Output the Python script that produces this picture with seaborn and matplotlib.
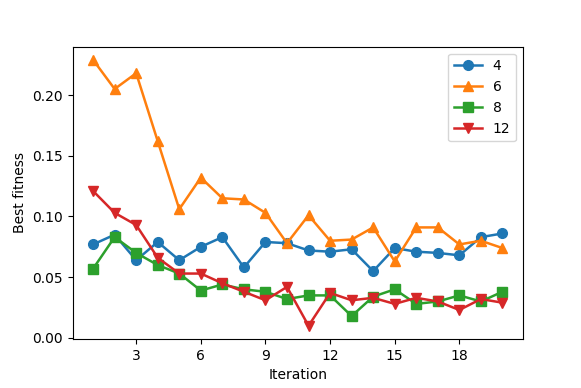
import matplotlib
matplotlib.use('Agg')
import matplotlib.pyplot as plt
import seaborn as sns
import pandas as pd

iterations = list(range(1, 21))
fit_4 = [0.077, 0.085, 0.064, 0.079, 0.064, 0.075, 0.083, 0.058, 0.079, 0.078,
         0.072, 0.071, 0.073, 0.055, 0.074, 0.071, 0.070, 0.068, 0.083, 0.086]
fit_6 = [0.229, 0.205, 0.218, 0.162, 0.106, 0.132, 0.115, 0.114, 0.103, 0.078,
         0.101, 0.080, 0.081, 0.091, 0.063, 0.091, 0.091, 0.077, 0.080, 0.074]
fit_8 = [0.057, 0.083, 0.070, 0.060, 0.053, 0.039, 0.044, 0.040, 0.038, 0.032,
         0.035, 0.035, 0.018, 0.034, 0.040, 0.028, 0.030, 0.035, 0.030, 0.038]
fit_12 = [0.121, 0.103, 0.093, 0.066, 0.053, 0.053, 0.045, 0.038, 0.031, 0.042,
          0.010, 0.037, 0.031, 0.033, 0.028, 0.033, 0.030, 0.023, 0.032, 0.029]

series = {'4': fit_4, '6': fit_6, '8': fit_8, '12': fit_12}
markers = {'4': 'o', '6': '^', '8': 's', '12': 'v'}
colors = sns.color_palette('tab10', 4)

fig, ax = plt.subplots(figsize=(5.81, 3.88), dpi=100)
fig.subplots_adjust(left=0.125, right=0.9, top=0.88, bottom=0.126)

for (name, vals), col in zip(series.items(), colors):
    df = pd.DataFrame({'Iteration': iterations, 'Best fitness': vals})
    sns.lineplot(data=df, x='Iteration', y='Best fitness', ax=ax, color=col,
                 linewidth=1.8, marker=markers[name], markersize=7,
                 markeredgecolor=col, markeredgewidth=1, label=name)

ax.set_xticks([3, 6, 9, 12, 15, 18])
ax.set_ylim(bottom=-0.001)
ax.legend(loc='upper right')
plt.savefig('out.png', dpi=100)
